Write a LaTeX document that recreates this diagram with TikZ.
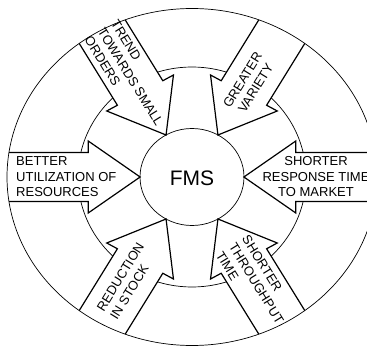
\documentclass[tikz,border=0pt]{standalone}
\usepackage{fontspec}
\setmainfont{Liberation Sans}
\begin{document}
\begin{tikzpicture}[x=1pt,y=-1pt,
  arrowshape/.style={draw=black, fill=white, line width=1.2pt, line join=miter},
  ring/.style={draw=black, line width=0.7pt},
  lbl/.style={font=\fontsize{13}{15.5}\selectfont, inner sep=0pt}]
\useasboundingbox (0,0) rectangle (367,347);
\clip (0,0) rectangle (367,347);
\coordinate (c) at (192,177);
\draw[ring] (c) ellipse [x radius=114pt, y radius=110pt];
\begin{scope}
  \clip (c) ellipse [x radius=185pt, y radius=168.5pt];
  \foreach \a in {0,60,...,300}{
    \draw[arrowshape, shift={(c)}, xscale=1.07, rotate=\a]
      (48.5,0) -- (97,36) -- (97,24.5) -- (220,24.5) -- (220,-24.5) -- (97,-24.5) -- (97,-36) -- cycle;
  }
\end{scope}
\draw[ring] (c) ellipse [x radius=185pt, y radius=168.5pt];
\draw[ring] (c) ellipse [x radius=52pt, y radius=48.5pt];
\node[font=\fontsize{21}{21}\selectfont, inner sep=0pt] (fms) at (192,178) {FMS};
\node[lbl, align=left, anchor=west] (better) at (16,177) {BETTER\\UTILIZATION OF\\RESOURCES};
\node[lbl, align=center] (shorter) at (316,177) {SHORTER\\RESPONSE TIME\\TO MARKET};
\node[lbl, align=left, rotate=-58.3] (trend) at (130.5,77) {TREND\\TOWARDS SMALL\\ORDERS};
\node[lbl, align=center, rotate=58.3] (greater) at (249,84) {GREATER\\VARIETY};
\node[lbl, align=left, rotate=58.3] (reduction) at (127,281) {REDUCTION\\IN STOCK};
\node[lbl, align=left, rotate=-58.3] (through) at (256.5,283.5) {SHORTER\\THROUGHPUT\\TIME};
\end{tikzpicture}
\end{document}
